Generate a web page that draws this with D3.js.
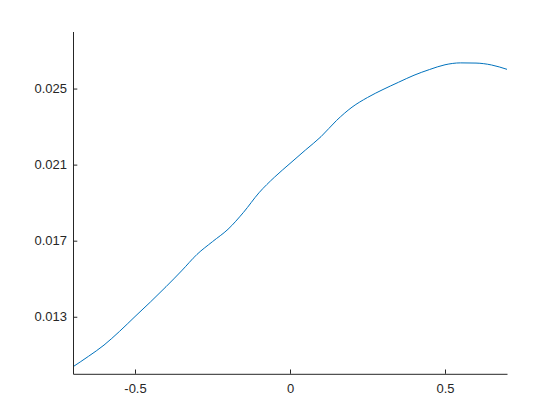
<!DOCTYPE html>
<html lang='en'>
    <head>
        <script src="https://d3js.org/d3.v7.min.js"></script>
        <style>
            body{
                margin:0px;
                padding:0px;
                background-color:white;
            }
            svg{
                display:block;
            }
            .tick text{
                font-family:"Liberation Sans",Arial,sans-serif;
                font-size:13px;
                fill:#262626;
            }
        </style>
    </head>
    <body>
        <svg id="chart" width="560" height="420"></svg>
        <script>
            // values
            const xValues=[-0.70,-0.65,-0.60,-0.55,-0.50,-0.45,-0.40,-0.35,-0.30,-0.25,
                           -0.20,-0.15,-0.10,-0.05,0.00,0.05,0.10,0.15,0.20,0.25,
                           0.30,0.35,0.40,0.45,0.50,0.55,0.60,0.65,0.70];
            const yValues=[0.01037,0.01092,0.01151,0.01223,0.01301,0.01378,0.01458,0.01541,0.01628,0.01695,
                           0.01760,0.01849,0.01952,0.02034,0.02106,0.02177,0.02247,0.02332,0.02402,0.02453,
                           0.02495,0.02533,0.02570,0.02600,0.02625,0.02635,0.02634,0.02624,0.02601];
            const xTicks=[-0.5,0,0.5];
            const xTickLabels=['-0.5','0','0.5'];
            const yTicks=[0.013,0.017,0.021,0.025];
            const yTickLabels=['0.013','0.017','0.021','0.025'];

            const marginLeft=73, marginTop=31.5, plotW=434, plotH=342.3;
            const svg=d3.select('#chart');
            const g=svg.append('g').attr('transform','translate('+marginLeft+','+marginTop+')');

            const xScale=d3.scaleLinear().domain([-0.7,0.7]).range([0,plotW]);
            const yScale=d3.scaleLinear().domain([0.01,0.028]).range([plotH,0]);

            const data=xValues.map((x,i)=>[x,yValues[i]]);

            g.append('path')
             .datum(data)
             .attr('fill','none')
             .attr('stroke','#0072BD')
             .attr('stroke-width',1)
             .attr('d',d3.line().x(d=>xScale(d[0])).y(d=>yScale(d[1])).curve(d3.curveMonotoneX));

            // matlab style: ticks point inward
            const xAxis=d3.axisBottom(xScale)
                          .tickValues(xTicks)
                          .tickFormat((d,i)=>xTickLabels[i])
                          .tickSizeInner(-4.3)
                          .tickSizeOuter(0)
                          .tickPadding(10);
            const yAxis=d3.axisLeft(yScale)
                          .tickValues(yTicks)
                          .tickFormat((d,i)=>yTickLabels[i])
                          .tickSizeInner(-4.3)
                          .tickSizeOuter(0)
                          .tickPadding(6);

            const gx=g.append('g')
                      .attr('transform','translate(0,'+plotH+')')
                      .call(xAxis);
            const gy=g.append('g').call(yAxis);

            [gx,gy].forEach(ax=>{
                ax.select('.domain').attr('stroke','#262626');
                ax.selectAll('.tick line').attr('stroke','#262626');
            });
        </script>
    </body>
</html>
